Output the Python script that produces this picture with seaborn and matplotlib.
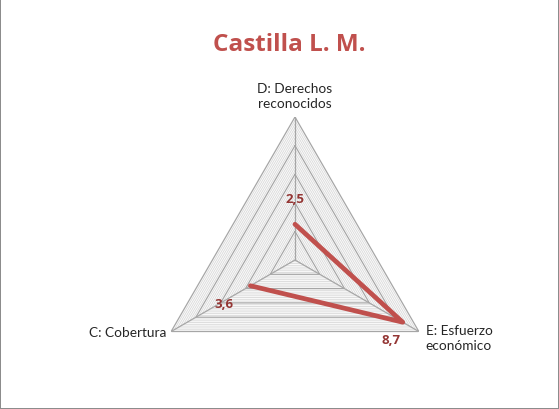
import numpy as np
import pandas as pd
import seaborn as sns
import matplotlib.pyplot as plt

# data
categories = ['D: Derechos\nreconocidos', 'E: Esfuerzo\neconómico', 'C: Cobertura']
values = [2.5, 8.7, 3.6]
value_labels = ['2,5', '8,7', '3,6']
title = 'Castilla L. M.'

sns.set_theme(style='white')
plt.rcParams['font.family'] = ['Lato', 'DejaVu Sans']

red = '#C0504D'
dark_red = '#943634'

fig = plt.figure(figsize=(5.59, 4.10), dpi=100)
fig.patch.set_edgecolor('#8c8c8c')
fig.patch.set_linewidth(1.2)
ax = fig.add_axes([0.2719, 0.0146, 0.5116, 0.6976], projection='polar')
ax.set_theta_offset(np.pi / 2)
ax.set_theta_direction(-1)
ax.set_ylim(0, 10)
ax.grid(False)
ax.set_xticks([])
ax.set_yticks([])
ax.spines['polar'].set_visible(False)
ax.patch.set_alpha(0)

angles = np.linspace(0, 2 * np.pi, len(categories), endpoint=False)
closed = np.append(angles, angles[0])

# triangular grid: minor every 0.25, major every 2
for lev in np.arange(0.25, 10.01, 0.25):
    major = abs(lev / 2 - round(lev / 2)) < 1e-6
    ax.plot(closed, [lev] * len(closed),
            color='#a6a6a6' if major else '#dcdcdc',
            lw=0.9 if major else 0.7, zorder=1 if major else 0)
for a in angles:
    ax.plot([a, a], [0, 10], color='#a6a6a6', lw=0.9, zorder=1)

df = pd.DataFrame({'theta': closed, 'r': values + values[:1]})
sns.lineplot(data=df, x='theta', y='r', sort=False, color=red, lw=3.4, ax=ax,
             zorder=3)

# data labels
offsets = [(0, 26), (-12, -17), (-26, -18)]
for a, v, lab, off in zip(angles, values, value_labels, offsets):
    ax.annotate(lab, xy=(a, v), xytext=off, textcoords='offset pixels',
                ha='center', va='center', color=dark_red, fontsize=9.5,
                fontweight='bold', family=['Open Sans', 'DejaVu Sans'])

# category labels
ax.annotate(categories[0], xy=(angles[0], 10), xytext=(0, 8),
            textcoords='offset pixels', ha='center', va='bottom',
            fontsize=9.8, color='#262626', linespacing=1.3)
ax.annotate(categories[1], xy=(angles[1], 10), xytext=(7, -6),
            textcoords='offset pixels', ha='left', va='center',
            fontsize=9.8, color='#262626', linespacing=1.3)
ax.annotate(categories[2], xy=(angles[2], 10), xytext=(-5, 0),
            textcoords='offset pixels', ha='right', va='center',
            fontsize=9.8, color='#262626')

fig.text(0.517, 0.89, title, ha='center', va='center', color=red,
         fontsize=17.5, fontweight='bold', family=['Open Sans', 'DejaVu Sans'])

fig.savefig('out.png', dpi=100, edgecolor=fig.get_edgecolor())
